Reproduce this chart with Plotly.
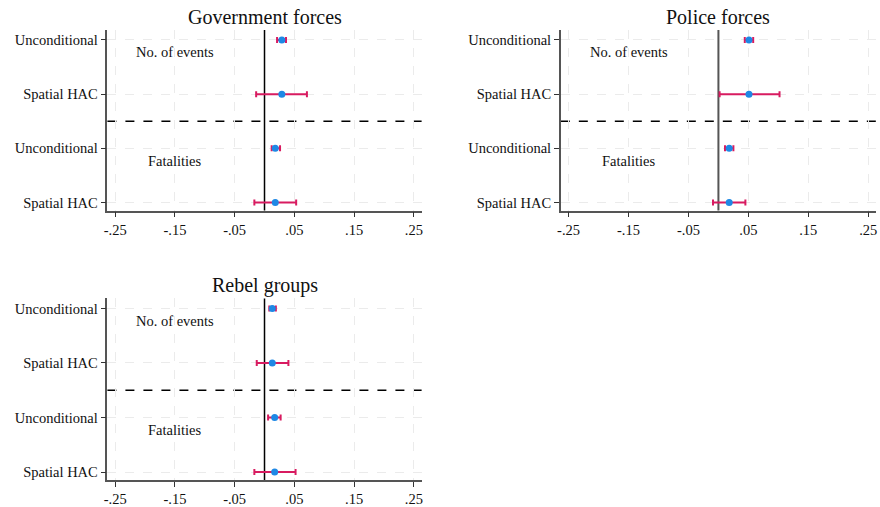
import plotly.graph_objects as go

# Coefficient estimates with 95% confidence bounds, per actor panel.
# Row order: events/unconditional, events/spatial HAC, fatalities/unconditional, fatalities/spatial HAC
row_labels = ["Unconditional", "Spatial HAC", "Unconditional", "Spatial HAC"]
row_pos = [1, 2, 3, 4]

gov_coef = [0.029, 0.029, 0.018, 0.018]
gov_lo = [0.021, -0.014, 0.012, -0.017]
gov_hi = [0.036, 0.071, 0.026, 0.053]

police_coef = [0.051, 0.051, 0.018, 0.018]
police_lo = [0.044, 0.002, 0.011, -0.009]
police_hi = [0.058, 0.102, 0.025, 0.045]

rebel_coef = [0.013, 0.013, 0.017, 0.017]
rebel_lo = [0.008, -0.013, 0.006, -0.017]
rebel_hi = [0.019, 0.040, 0.027, 0.052]

panel_titles = ["Government forces", "Police forces", "Rebel groups"]
x_ticks = [-0.25, -0.15, -0.05, 0.05, 0.15, 0.25]
x_ticktext = ["-.25", "-.15", "-.05", ".05", ".15", ".25"]

FONT = "Liberation Serif, Times New Roman, serif"
POINT = "#1E88E5"
CI = "#D81B60"

W, H = 880, 507
# panel domains in pixels: (left, right, top, bottom)
panels_px = [(104, 420, 30, 211), (560, 877, 30, 211), (104, 420, 299, 481)]

fig = go.Figure()
panels = [(gov_coef, gov_lo, gov_hi), (police_coef, police_lo, police_hi),
          (rebel_coef, rebel_lo, rebel_hi)]

for i, ((coef, lo, hi), (l, r, t, b), title) in enumerate(zip(panels, panels_px, panel_titles)):
    sfx = "" if i == 0 else str(i + 1)
    xa, ya = "x" + sfx, "y" + sfx
    fig.add_trace(go.Scatter(
        x=coef, y=row_pos, xaxis=xa, yaxis=ya, mode="markers",
        marker=dict(color=POINT, size=7),
        error_x=dict(type="data", symmetric=False,
                     array=[h - c for h, c in zip(hi, coef)],
                     arrayminus=[c - lo_ for c, lo_ in zip(coef, lo)],
                     color=CI, thickness=2, width=3),
        showlegend=False, hoverinfo="skip"))

    xdom = [l / W, r / W]
    ydom = [1 - b / H, 1 - t / H]
    y_top = 1 - (10 / 54.33)
    y_bot = 4 + (8 / 54.33)
    fig.layout["xaxis" + sfx] = dict(
        domain=xdom, anchor=ya, range=[-0.263, 0.263],
        tickvals=x_ticks, ticktext=x_ticktext, ticks="outside", ticklen=5,
        tickcolor="#333", showline=True, linecolor="#555", linewidth=1.5,
        showgrid=True, gridcolor="#ebebeb", griddash="dash", gridwidth=1,
        zeroline=False, tickfont=dict(family=FONT, size=14.5, color="#111"))
    fig.layout["yaxis" + sfx] = dict(
        domain=ydom, anchor=xa, range=[y_bot, y_top],
        tickvals=row_pos, ticktext=row_labels, ticks="outside", ticklen=5,
        tickcolor="#333", showline=True, linecolor="#555", linewidth=1.5,
        showgrid=True, gridcolor="#ebebeb", griddash="dash", gridwidth=1,
        zeroline=False, tickfont=dict(family=FONT, size=14.5, color="#111"))

    # reference line at zero
    zc = "#555" if i == 1 else "black"
    zw = 2 if i == 1 else 1.5
    fig.add_shape(type="line", xref=xa, yref=ya + " domain", x0=0, x1=0, y0=0, y1=1,
                  line=dict(color=zc, width=zw), layer="below")
    # separator between outcome groups
    fig.add_shape(type="line", xref=xa + " domain", yref=ya, x0=0, x1=1, y0=2.5, y1=2.5,
                  line=dict(color="black", width=1.5, dash="dash"), layer="below")

    fig.add_annotation(x=-0.15, y=1.23, xref=xa, yref=ya, text="No. of events",
                       showarrow=False, font=dict(family=FONT, size=14.5, color="#111"))
    fig.add_annotation(x=-0.15, y=3.23, xref=xa, yref=ya, text="Fatalities",
                       showarrow=False, font=dict(family=FONT, size=14.5, color="#111"))
    fig.add_annotation(x=(l + r) / 2 / W, y=1 - (t - 13) / H, xref="paper", yref="paper",
                       xanchor="center", yanchor="middle",
                       text=title, showarrow=False,
                       font=dict(family=FONT, size=20, color="#111"))

fig.update_layout(width=W, height=H, margin=dict(l=0, r=0, t=0, b=0),
                  paper_bgcolor="white", plot_bgcolor="white")

fig.write_html("out.html")
